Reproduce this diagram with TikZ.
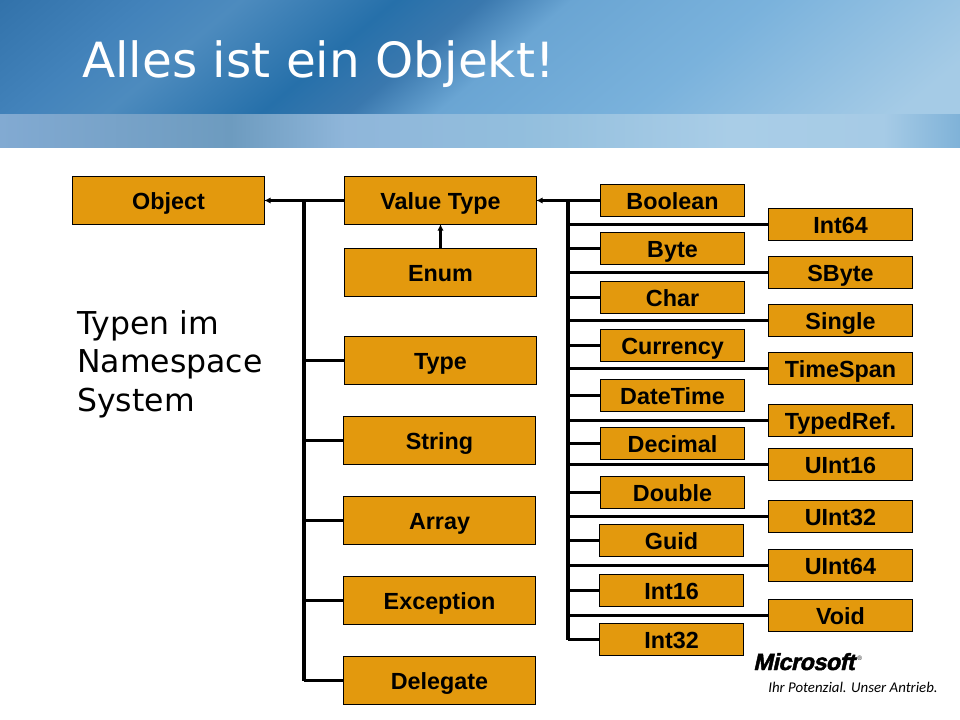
\documentclass[tikz,border=0pt]{standalone}
\usepackage{fontspec}
\setmainfont{Liberation Sans}
\newfontfamily\slidefont{DejaVu Sans}
\newfontfamily\claimfont{Carlito}
\newfontfamily\logofont[FakeSlant=0.22,FakeBold=2,LetterSpace=-2]{Liberation Sans Bold}
\usetikzlibrary{arrows.meta}
\definecolor{boxfill}{HTML}{E3990D}
\definecolor{bu0}{HTML}{3272AA}
\definecolor{bu1}{HTML}{4383BB}
\definecolor{bu2}{HTML}{4D8BBE}
\definecolor{bu3}{HTML}{2670AA}
\definecolor{bu4}{HTML}{3A78AE}
\definecolor{bu5}{HTML}{6AA5D3}
\definecolor{bu6}{HTML}{7AB2DC}
\definecolor{bu7}{HTML}{A5CBE6}
\definecolor{bl0}{HTML}{82AAD2}
\definecolor{bl1}{HTML}{6D9BBF}
\definecolor{bl2}{HTML}{8FB6DA}
\definecolor{bl3}{HTML}{92BEDD}
\definecolor{bl4}{HTML}{A9CDE7}
\definecolor{bl5}{HTML}{A6CBE6}
\definecolor{bl6}{HTML}{7FB2D8}
\pgfdeclarehorizontalshading{bannerupper}{100bp}{
  color(0bp)=(bu0); color(25bp)=(bu0); color(32bp)=(bu1); color(36bp)=(bu2);
  color(43bp)=(bu3); color(47bp)=(bu4); color(51bp)=(bu5); color(60bp)=(bu6);
  color(72bp)=(bu7); color(75bp)=(bu7); color(100bp)=(bu7)}
\pgfdeclarehorizontalshading{bannerlower}{100bp}{
  color(0bp)=(bl0); color(25bp)=(bl0); color(37bp)=(bl1); color(43bp)=(bl2);
  color(52bp)=(bl3); color(63bp)=(bl4); color(71bp)=(bl5); color(75bp)=(bl6); color(100bp)=(bl6)}
\tikzset{
  wide box/.style={draw=black, line width=0.6pt, fill=boxfill, minimum width=4.8cm, minimum height=1.2cm, inner sep=0pt, text height=15.2pt, text depth=3pt, font=\fontsize{16.6}{18}\selectfont\bfseries},
  small box/.style={wide box, minimum width=3.6cm, minimum height=0.8cm},
  branch/.style={line width=2.1pt},
  trunk/.style={line width=2.6pt},
  inherit/.style={line width=2.1pt, -{Latex[length=4.5pt,width=4.5pt]}, shorten >=-0.5pt}
}
\begin{document}
\begin{tikzpicture}[x=0.025cm,y=-0.025cm]
    \useasboundingbox (0,0) rectangle (960,720);

    % banner
    \begin{scope}
        \clip (0,0) rectangle (960,115);
        \shade[shading=bannerupper, transform canvas={cm={1,0,1.2,1,(0,0)}}] (0,0) rectangle (1100,115);
    \end{scope}
    \begin{scope}
        \clip (0,115) rectangle (960,148);
        \shade[shading=bannerlower] (0,115) rectangle (960,148);
    \end{scope}
    \node[anchor=base west, inner sep=0pt, text=white, font=\slidefont\fontsize{34.5}{36}\selectfont] (Title) at (82,78) {Alles ist ein Objekt!};
    \node[anchor=north west, inner sep=0pt, align=left, font=\slidefont\fontsize{22.4}{27.4}\selectfont] (Caption) at (77,310) {Typen im\\Namespace\\System};

    % left column
    \node[wide box] (Object) at (168.5,200.5) {Object};
    \node[wide box] (ValueType) at (440.5,200.5) {Value Type};
    \node[wide box] (Enum) at (440.5,272.5) {Enum};
    \node[wide box] (Type) at (440.5,360.5) {Type};
    \node[wide box] (String) at (439.5,440.5) {String};
    \node[wide box] (Array) at (439.5,520.5) {Array};
    \node[wide box] (Exception) at (439.5,600.5) {Exception};
    \node[wide box] (Delegate) at (439.5,680.5) {Delegate};

    % middle column
    \node[small box] (Boolean) at (672.5,200.5) {Boolean};
    \node[small box] (Byte) at (672.5,248.5) {Byte};
    \node[small box] (Char) at (672.5,297.5) {Char};
    \node[small box] (Currency) at (672.5,345.5) {Currency};
    \node[small box] (DateTime) at (672.5,395.5) {DateTime};
    \node[small box] (Decimal) at (672.5,443.5) {Decimal};
    \node[small box] (Double) at (672.5,492.5) {Double};
    \node[small box] (Guid) at (671.5,540.5) {Guid};
    \node[small box] (IntSixteen) at (671.5,590.5) {Int16};
    \node[small box] (IntThirtyTwo) at (671.5,639.5) {Int32};

    % right column
    \node[small box] (IntSixtyFour) at (840.5,224.5) {Int64};
    \node[small box] (SByte) at (840.5,272.5) {SByte};
    \node[small box] (Single) at (840.5,320.5) {Single};
    \node[small box] (TimeSpan) at (840.5,368.5) {TimeSpan};
    \node[small box] (TypedRef) at (840.5,420.5) {TypedRef.};
    \node[small box] (UIntSixteen) at (840.5,464.5) {UInt16};
    \node[small box] (UIntThirtyTwo) at (840.5,516.5) {UInt32};
    \node[small box] (UIntSixtyFour) at (840.5,565.5) {UInt64};
    \node[small box] (Void) at (840.5,615.5) {Void};

    % trunks
    \coordinate (TrunkL) at (304,199.5);
    \coordinate (TrunkR) at (568,199.5);
    \draw[trunk] (TrunkL) -- (Delegate.west -| TrunkL);
    \draw[trunk] (TrunkR) -- (IntThirtyTwo.west -| TrunkR);

    % arrows
    \draw[inherit] (ValueType.west) -- (Object.east);
    \draw[inherit] (Boolean.west) -- (ValueType.east);
    \draw[inherit] (Enum.north) -- (ValueType.south);

    % branches
    \foreach \boxname in {Type,String,Array,Exception,Delegate}
        \draw[branch] (\boxname.west) -- (\boxname.west -| TrunkL);
    \foreach \boxname in {Byte,Char,Currency,DateTime,Decimal,Double,Guid,IntSixteen,IntThirtyTwo}
        \draw[branch] (\boxname.west) -- (\boxname.west -| TrunkR);
    \foreach \boxname in {IntSixtyFour,SByte,Single,TimeSpan,TypedRef,UIntSixteen,UIntThirtyTwo,UIntSixtyFour,Void}
        \draw[branch] (\boxname.west) -- (\boxname.west -| TrunkR);

    % logo
    \node[anchor=base west, inner sep=0pt, font=\logofont\fontsize{16.6}{18}\selectfont] (Logo) at (753,670) {Microsoft};
    \node[anchor=base west, inner sep=0pt, xshift=1.5pt, font=\fontsize{4.5}{5}\selectfont] (LogoMark) at (Logo.base east) {\raisebox{7pt}{\textregistered}};
    \node[anchor=base west, inner sep=0pt, font=\claimfont\fontsize{10.56}{13}\selectfont\itshape] (Claim) at (768,692) {Ihr Potenzial. Unser Antrieb.};
\end{tikzpicture}
\end{document}
